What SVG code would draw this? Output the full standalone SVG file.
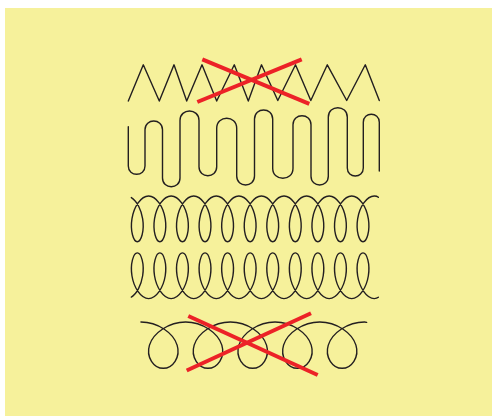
<svg xmlns="http://www.w3.org/2000/svg" width="492" height="416" viewBox="0 0 492 416">
<style>
.bg{fill:#f6f19b}
.ln{fill:none;stroke:#231f20;stroke-width:1.4;stroke-linejoin:round;stroke-linecap:round}
.x{fill:none;stroke:#ec2227;stroke-width:4}
</style>
<rect x="0" y="0" width="492" height="416" fill="#ffffff"/>
<rect class="bg" x="5" y="8" width="487" height="408"/>
<g id="zigzag">
<polyline class="ln" points="128.3,101 143.3,64.8 159.3,101 174,64.8 186.7,101 202,64.8 216.7,101 234.3,64.8 248.3,101 261.5,64.8 277.8,100.5 295.5,64.8 310.8,100.5 327.3,64.8 346.7,100.5 365.3,64.8 379.3,100.5"/>
</g>
<g id="wave">
<path class="ln" d="M128.3,126.7 L128.3,165.95 C128.3,177.08 145,177.08 145,165.95 L145,129.75 C145,118.08 162.5,118.08 162.5,129.75 L162.5,177.95 C162.5,189.62 180,189.62 180,177.95 L180,120.5 C180,107.83 199,107.83 199,120.5 L199,166.85 C199,178.65 216.7,178.65 216.7,166.85 L216.7,128.3 C216.7,114.97 236.7,114.97 236.7,128.3 L236.7,176.1 C236.7,187.97 254.5,187.97 254.5,176.1 L254.5,119.1 C254.5,106.97 272.7,106.97 272.7,119.1 L272.7,168.15 C272.7,181.68 293,181.68 293,168.15 L293,124.7 C293,112.7 311,112.7 311,124.7 L311,176.35 C311,187.88 328.3,187.88 328.3,176.35 L328.3,117.2 C328.3,104.53 347.3,104.53 347.3,117.2 L347.3,168 C347.3,178.67 363.3,178.67 363.3,168 L363.3,122.3 C363.3,111.63 379.3,111.63 379.3,122.3 L379.3,171"/>
</g>
<g id="loops-top">
<path id="r3" class="ln" d="M131.33,197.56 C136.87,200.87 141.22,209.71 142.66,218.85 c1.88,11.964 -1.479,22.85 -5.358,22.85 c-3.879,0 -7.238,-10.886 -5.358,-22.85 c1.88,-11.964 9.003,-22.85 16.643,-22.85
c7.64,0 14.763,10.886 16.643,22.85 c1.88,11.964 -1.479,22.85 -5.358,22.85 c-3.879,0 -7.238,-10.886 -5.358,-22.85 c1.88,-11.964 9.003,-22.85 16.643,-22.85
c7.64,0 14.763,10.886 16.643,22.85 c1.88,11.964 -1.479,22.85 -5.358,22.85 c-3.879,0 -7.238,-10.886 -5.358,-22.85 c1.88,-11.964 9.003,-22.85 16.643,-22.85
c7.64,0 14.763,10.886 16.643,22.85 c1.88,11.964 -1.479,22.85 -5.358,22.85 c-3.879,0 -7.238,-10.886 -5.358,-22.85 c1.88,-11.964 9.003,-22.85 16.643,-22.85
c7.64,0 14.763,10.886 16.643,22.85 c1.88,11.964 -1.479,22.85 -5.358,22.85 c-3.879,0 -7.238,-10.886 -5.358,-22.85 c1.88,-11.964 9.003,-22.85 16.643,-22.85
c7.64,0 14.763,10.886 16.643,22.85 c1.88,11.964 -1.479,22.85 -5.358,22.85 c-3.879,0 -7.238,-10.886 -5.358,-22.85 c1.88,-11.964 9.003,-22.85 16.643,-22.85
c7.64,0 14.763,10.886 16.643,22.85 c1.88,11.964 -1.479,22.85 -5.358,22.85 c-3.879,0 -7.238,-10.886 -5.358,-22.85 c1.88,-11.964 9.003,-22.85 16.643,-22.85
c7.64,0 14.763,10.886 16.643,22.85 c1.88,11.964 -1.479,22.85 -5.358,22.85 c-3.879,0 -7.238,-10.886 -5.358,-22.85 c1.88,-11.964 9.003,-22.85 16.643,-22.85
c7.64,0 14.763,10.886 16.643,22.85 c1.88,11.964 -1.479,22.85 -5.358,22.85 c-3.879,0 -7.238,-10.886 -5.358,-22.85 c1.88,-11.964 9.003,-22.85 16.643,-22.85
c7.64,0 14.763,10.886 16.643,22.85 c1.88,11.964 -1.479,22.85 -5.358,22.85 c-3.879,0 -7.238,-10.886 -5.358,-22.85 c1.88,-11.964 9.003,-22.85 16.643,-22.85
c7.64,0 14.763,10.886 16.643,22.85 c1.88,11.964 -1.479,22.85 -5.358,22.85 c-3.879,0 -7.238,-10.886 -5.358,-22.85 c1.88,-11.964 9.003,-22.85 16.643,-22.85
c1.6,0 3,0.4 4.1,1.3"/>
</g>
<g id="loops-bottom">
<use href="#r3" transform="matrix(1 0 0 -1 0 494.6)"/>
</g>
<g id="loops-large">
<path class="ln" d="M140.95,322
c16.815,0 32.45,11.029 36.175,23.15 c3.725,12.121 -4.46,23.15 -13.825,23.15 c-9.365,0 -17.55,-11.029 -13.825,-23.15 c3.725,-12.121 19.36,-23.15 36.175,-23.15
c16.815,0 32.45,11.029 36.175,23.15 c3.725,12.121 -4.46,23.15 -13.825,23.15 c-9.365,0 -17.55,-11.029 -13.825,-23.15 c3.725,-12.121 19.36,-23.15 36.175,-23.15
c16.815,0 32.45,11.029 36.175,23.15 c3.725,12.121 -4.46,23.15 -13.825,23.15 c-9.365,0 -17.55,-11.029 -13.825,-23.15 c3.725,-12.121 19.36,-23.15 36.175,-23.15
c16.815,0 32.45,11.029 36.175,23.15 c3.725,12.121 -4.46,23.15 -13.825,23.15 c-9.365,0 -17.55,-11.029 -13.825,-23.15 c3.725,-12.121 19.36,-23.15 36.175,-23.15
c16.815,0 32.45,11.029 36.175,23.15 c3.725,12.121 -4.46,23.15 -13.825,23.15 c-9.365,0 -17.55,-11.029 -13.825,-23.15 c3.725,-12.121 19.36,-23.15 36.175,-23.15
c0.8,0 1.5,0.1 2.2,0.3"/>
</g>
<g id="cross-1">
<line class="x" x1="202.3" y1="59.3" x2="309.3" y2="103.8"/>
<line class="x" x1="197.3" y1="102" x2="301.7" y2="59.3"/>
</g>
<g id="cross-2">
<line class="x" x1="188.3" y1="316" x2="317.7" y2="375"/>
<line class="x" x1="186.7" y1="370.5" x2="311" y2="313.3"/>
</g>
</svg>
